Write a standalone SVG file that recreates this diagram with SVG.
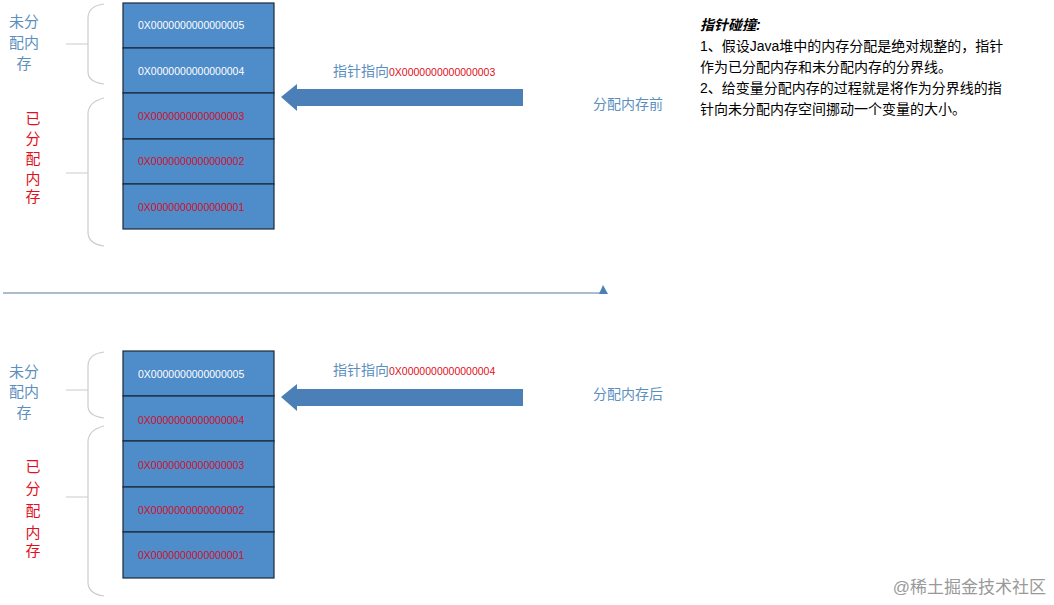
<svg xmlns="http://www.w3.org/2000/svg" width="1054" height="605" viewBox="0 0 1054 605">
<style>
text{font-family:"Liberation Sans","Noto Sans CJK SC",sans-serif}
.cell{fill:#4f8cca;stroke:#1a2a3a;stroke-width:1.2}
.w{fill:#fff;font-size:10.5px}
.r{fill:#d0102a;font-size:10.5px}
.br{fill:none;stroke:#ccc;stroke-width:1.2}
.bl{fill:#5b8fc0;font-size:15px}
.rd{fill:#e01020;font-size:15px}
.arr{fill:#4a7fb8}
.note{fill:#000;font-size:14px}
</style>
<rect width="1054" height="605" fill="#fff"/>
<g id="stack-top">
<rect class="cell" x="123" y="3" width="151" height="45"/>
<rect class="cell" x="123" y="48" width="151" height="45"/>
<rect class="cell" x="123" y="93" width="151" height="46"/>
<rect class="cell" x="123" y="139" width="151" height="45"/>
<rect class="cell" x="123" y="184" width="151" height="45"/>
<text class="w" x="138" y="29">0X0000000000000005</text>
<text class="w" x="138" y="75">0X0000000000000004</text>
<text class="r" x="138" y="120">0X0000000000000003</text>
<text class="r" x="138" y="165">0X0000000000000002</text>
<text class="r" x="138" y="211">0X0000000000000001</text>
</g>
<g id="stack-bottom">
<rect class="cell" x="123" y="351" width="151" height="45"/>
<rect class="cell" x="123" y="396" width="151" height="45"/>
<rect class="cell" x="123" y="441" width="151" height="46"/>
<rect class="cell" x="123" y="487" width="151" height="45"/>
<rect class="cell" x="123" y="532" width="151" height="46"/>
<text class="w" x="138" y="378">0X0000000000000005</text>
<text class="r" x="138" y="424">0X0000000000000004</text>
<text class="r" x="138" y="469">0X0000000000000003</text>
<text class="r" x="138" y="514">0X0000000000000002</text>
<text class="r" x="138" y="559">0X0000000000000001</text>
</g>
<g id="brackets">
<path class="br" d="M104,4 Q88,6 88,18 V72 Q88,82 104,84 M66,44 H88"/>
<path class="br" d="M104,98 Q88,102 88,114 V232 Q88,244 104,246 M66,173 H88"/>
<path class="br" d="M104,352 Q88,354 88,366 V406 Q88,416 104,418 M66,390 H88"/>
<path class="br" d="M104,426 Q88,430 88,442 V582 Q88,594 104,596 M66,497 H88"/>
</g>
<g id="labels">
<text class="bl" x="24" y="27" text-anchor="middle">未分</text>
<text class="bl" x="24" y="48" text-anchor="middle">配内</text>
<text class="bl" x="24" y="69" text-anchor="middle">存</text>
<text class="rd" x="33" y="124" text-anchor="middle">已</text>
<text class="rd" x="33" y="144" text-anchor="middle">分</text>
<text class="rd" x="33" y="164" text-anchor="middle">配</text>
<text class="rd" x="33" y="184" text-anchor="middle">内</text>
<text class="rd" x="33" y="202" text-anchor="middle">存</text>
<text class="bl" x="24" y="377" text-anchor="middle">未分</text>
<text class="bl" x="24" y="397" text-anchor="middle">配内</text>
<text class="bl" x="24" y="418" text-anchor="middle">存</text>
<text class="rd" x="33" y="472" text-anchor="middle">已</text>
<text class="rd" x="33" y="494" text-anchor="middle">分</text>
<text class="rd" x="33" y="516" text-anchor="middle">配</text>
<text class="rd" x="33" y="538" text-anchor="middle">内</text>
<text class="rd" x="33" y="556" text-anchor="middle">存</text>
</g>
<g id="connectors">
<polygon class="arr" points="281,97 297,84 297,89 523,89 523,106 297,106 297,111"/>
<polygon class="arr" points="281,397 297,384 297,389 523,389 523,406 297,406 297,411"/>
<line x1="3" y1="293" x2="603" y2="293" stroke="#5a7a9a" stroke-width="1"/>
<polygon points="603,285 599,294 608,294" fill="#4a7fb8"/>
</g>
<g id="pointer-top">
<text x="333" y="76" fill="#5b8fc0" font-size="14">指针指向<tspan fill="#e01020" font-size="10.5">0X0000000000000003</tspan></text>
<text x="593" y="109" fill="#5b8fc0" font-size="14">分配内存前</text>
</g>
<g id="pointer-bottom">
<text x="333" y="375" fill="#5b8fc0" font-size="14">指针指向<tspan fill="#e01020" font-size="10.5">0X0000000000000004</tspan></text>
<text x="593" y="399" fill="#5b8fc0" font-size="14">分配内存后</text>
</g>
<g id="note">
<text class="note" x="700" y="30" font-weight="bold" font-style="italic">指针碰撞:</text>
<text class="note" x="700" y="51">1、假设Java堆中的内存分配是绝对规整的，指针</text>
<text class="note" x="700" y="72">作为已分配内存和未分配内存的分界线。</text>
<text class="note" x="700" y="93">2、给变量分配内存的过程就是将作为分界线的指</text>
<text class="note" x="700" y="114">针向未分配内存空间挪动一个变量的大小。</text>
</g>
<text x="1046" y="593" text-anchor="end" fill="#999" font-size="17">@稀土掘金技术社区</text>
</svg>
